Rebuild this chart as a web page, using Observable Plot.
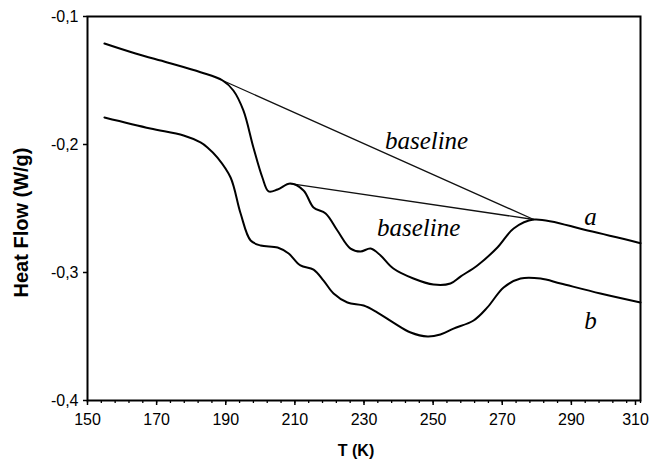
<!DOCTYPE html>
<html>
<head>
<meta charset="utf-8">
<script src="https://cdn.jsdelivr.net/npm/d3@7"></script>
<script src="https://cdn.jsdelivr.net/npm/@observablehq/plot@0.6"></script>
<style>
  html, body { margin: 0; padding: 0; background: #fff; }
  #chart svg { display: block; }
</style>
</head>
<body>
<div id="chart"></div>
<script>
// Curve a (temperature K, heat flow W/g)
const aT = [154.9, 163.9, 173.1, 182.7, 189.1, 192.2, 195.1, 198.0, 200.6, 202.4, 205.0, 208.7, 212.5, 215.4, 218.9, 222.3, 226.1, 229.0, 231.9, 234.8, 238.5, 244.3, 250.1, 255.0, 258.0, 262.8, 268.6, 273.3, 279.1, 294.7, 310];
const aV = [-0.1211, -0.1289, -0.1359, -0.1435, -0.1500, -0.1578, -0.1734, -0.2023, -0.2258, -0.2367, -0.2352, -0.2305, -0.2359, -0.2492, -0.2539, -0.2672, -0.2813, -0.2836, -0.2813, -0.2867, -0.2969, -0.3047, -0.3094, -0.3086, -0.3030, -0.2945, -0.2805, -0.2656, -0.2586, -0.2672, -0.2771];

// Curve b
const bT = [154.9, 168.2, 177.8, 182.7, 184.7, 187.6, 191.4, 194.3, 197.2, 200.1, 205.0, 208.2, 211.6, 215.4, 218.3, 221.2, 225.2, 229.9, 233.9, 238.5, 243.5, 248.4, 252.1, 255.9, 261.7, 265.7, 270.4, 275.3, 281.1, 286.9, 298.4, 310];
const bV = [-0.1789, -0.1875, -0.1930, -0.1984, -0.2023, -0.2102, -0.2258, -0.2539, -0.2750, -0.2789, -0.2805, -0.2852, -0.2945, -0.2977, -0.3063, -0.3164, -0.3234, -0.3258, -0.3313, -0.3391, -0.3469, -0.3500, -0.3484, -0.3438, -0.3375, -0.3273, -0.3117, -0.3047, -0.3047, -0.3086, -0.3164, -0.3234];

// Baselines (straight segments)
const base1T = [189.1, 279.1];
const base1V = [-0.1500, -0.2586];
const base2T = [208.7, 279.1];
const base2V = [-0.2305, -0.2586];

// Annotations
const noteText = ["baseline", "baseline", "a", "b"];
const noteT = [248.1, 245.8, 295.5, 295.5];
const noteV = [-0.1969, -0.2656, -0.2570, -0.3375];

// Ticks
const xMajor = d3.range(150, 300, 20);
const xLast = [310];
const xMinor = d3.range(150, 311, 4);
const yTicks = [-0.1, -0.2, -0.3, -0.4];

const toRows = (T, V) => T.map((t, i) => ({t, v: V[i]}));
const a = toRows(aT, aV);
const b = toRows(bT, bV);
const b1 = toRows(base1T, base1V);
const b2 = toRows(base2T, base2V);
const notes = noteText.map((s, i) => ({s, t: noteT[i], v: noteV[i]}));

const tickFont = "Liberation Sans, Arial, sans-serif";

const chart = Plot.plot({
  width: 649,
  height: 462,
  marginLeft: 87,
  marginRight: 9,
  marginTop: 16,
  marginBottom: 62,
  style: {fontFamily: tickFont, background: "#fff", color: "#000"},
  x: {domain: [150, 310]},
  y: {domain: [-0.4, -0.1]},
  marks: [
    Plot.axisX({ticks: xMinor, tickSize: 3, tickFormat: () => "", strokeWidth: 1.3, label: null}),
    Plot.axisX({ticks: xMajor, tickSize: 5, tickPadding: 8, fontSize: 16, strokeWidth: 1.5, label: null, tickFormat: d => String(d)}),
    Plot.axisX({ticks: xLast, tickSize: 5, tickPadding: 8, fontSize: 16, strokeWidth: 1.5, label: null, dx: -5, tickFormat: d => String(d)}),
    Plot.axisY({ticks: yTicks, tickSize: 4, tickPadding: 5, fontSize: 16, strokeWidth: 1.5, label: null,
      tickFormat: d => d.toFixed(1).replace(".", ",")}),
    Plot.frame({stroke: "#000", strokeWidth: 2}),
    Plot.line(b1, {x: "t", y: "v", stroke: "#111", strokeWidth: 1.3}),
    Plot.line(b2, {x: "t", y: "v", stroke: "#111", strokeWidth: 1.3}),
    Plot.line(a, {x: "t", y: "v", stroke: "#000", strokeWidth: 2, curve: "catmull-rom"}),
    Plot.line(b, {x: "t", y: "v", stroke: "#000", strokeWidth: 2, curve: "catmull-rom"}),
    Plot.text(notes, {x: "t", y: "v", text: "s", fontSize: 25, fontStyle: "italic",
      fontFamily: "Liberation Serif, serif", fill: "#000"}),
    Plot.text(["T (K)"], {frameAnchor: "bottom", textAnchor: "middle", dx: -8, dy: 55, fontSize: 16, fontWeight: "bold", fill: "#000"}),
    Plot.text(["Heat Flow (W/g)"], {frameAnchor: "left", textAnchor: "middle", dx: -66, dy: 14, rotate: -90, fontSize: 20, fontWeight: "bold", fill: "#000"})
  ]
});
document.getElementById("chart").appendChild(chart);
</script>
</body>
</html>
